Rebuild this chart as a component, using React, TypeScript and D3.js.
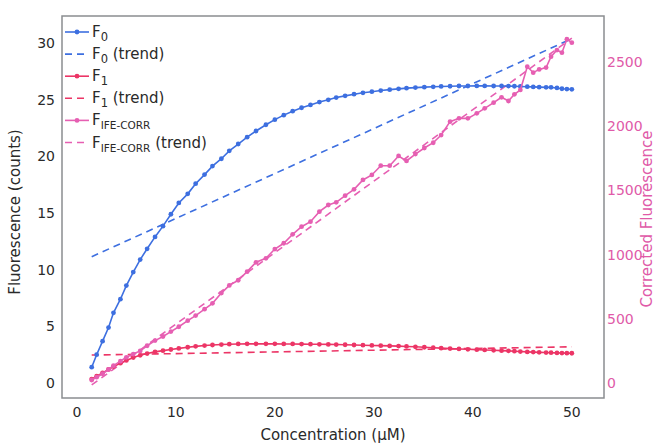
import React from "react";
import * as d3 from "d3";

const conc = [
  1.5, 2.0, 2.6, 3.2, 3.7, 4.4, 5.0, 5.7, 6.4, 7.1, 7.9, 8.7, 9.5, 10.3, 11.2, 12.0, 12.9, 13.7, 14.6, 15.4,
  16.3, 17.2, 18.1, 19.1, 20.0, 20.9, 21.8, 22.7, 23.6, 24.5, 25.4, 26.2, 27.1, 28.0, 28.9, 29.8, 30.7, 31.6,
  32.5, 33.3, 34.2, 35.1, 36.0, 36.8, 37.7, 38.6, 39.5, 40.4, 41.2, 42.1, 42.9, 43.6, 44.2, 44.8, 45.5, 46.1,
  46.7, 47.4, 47.9, 48.5, 49.0, 49.5, 50.0,
];

const f0 = [
  1.4, 2.5, 3.7, 4.9, 6.2, 7.4, 8.6, 9.8, 10.9, 11.85, 12.9, 13.85, 14.9, 15.9, 16.7, 17.6, 18.4, 19.15, 19.8, 20.5,
  21.1, 21.7, 22.25, 22.8, 23.25, 23.65, 24.0, 24.3, 24.55, 24.8, 25.0, 25.2, 25.35, 25.5, 25.62, 25.72, 25.82, 25.9,
  25.97, 26.03, 26.08, 26.12, 26.15, 26.18, 26.2, 26.22, 26.22, 26.23, 26.23, 26.22, 26.22, 26.21, 26.2, 26.18, 26.16, 26.14,
  26.12, 26.1, 26.1, 26.05, 25.98, 25.95, 25.93,
];

const f1 = [
  0.35, 0.6, 0.9, 1.2, 1.45, 1.75, 2.0, 2.25, 2.45, 2.6, 2.75, 2.86, 2.96, 3.06, 3.16, 3.24, 3.31, 3.36, 3.4, 3.43,
  3.45, 3.46, 3.46, 3.46, 3.46, 3.45, 3.45, 3.44, 3.43, 3.42, 3.41, 3.4, 3.38, 3.36, 3.34, 3.32, 3.3, 3.28,
  3.26, 3.23, 3.2, 3.16, 3.12, 3.08, 3.04, 3.01, 2.98, 2.95, 2.92, 2.89, 2.86, 2.84, 2.81, 2.78, 2.75, 2.73,
  2.71, 2.69, 2.68, 2.66, 2.65, 2.64, 2.63,
];

const fCorr = [
  23, 45, 72, 105, 135, 170, 200, 225, 250, 290, 330, 362, 400, 438, 485, 525, 575, 620, 700, 760,
  800, 867, 940, 971, 1043, 1088, 1158, 1217, 1256, 1334, 1386, 1407, 1459, 1508, 1581, 1620, 1692, 1692,
  1768, 1729, 1783, 1830, 1871, 1931, 2035, 2061, 2061, 2100, 2139, 2183, 2225, 2196, 2248, 2282, 2463, 2417,
  2442, 2456, 2541, 2593, 2572, 2677, 2650,
];

// trend lines, read at both ends
const trendConc = [1.5, 50];
const f0Trend = [11.15, 30.4];
const f1Trend = [2.47, 3.2];
const corrTrend = [-15, 2685];

const xTicks = [0, 10, 20, 30, 40, 50];
const yLeftTicks = [0, 5, 10, 15, 20, 25, 30];
const yRightTicks = [0, 500, 1000, 1500, 2000, 2500];

const BLUE = "#3d6fe0";
const RED = "#ec3566";
const PINK = "#e65fb2";
const AXIS_PINK = "#e05aa8";
const TEXT = "#2a2a2a";
const FONT = "DejaVu Sans, Verdana, sans-serif";

const W = 660;
const H = 443;
const plot = { left: 62, right: 604, top: 16, bottom: 398 };

const App = () => {
  const x = d3.scaleLinear().domain([-1.5, 53.25]).range([plot.left, plot.right]);
  const yL = d3.scaleLinear().domain([-1.32, 32.4]).range([plot.bottom, plot.top]);
  const yR = d3.scaleLinear().domain([-117, 2858]).range([plot.bottom, plot.top]);

  const pathOf = (vals: number[], ys: d3.ScaleLinear<number, number>, xs: number[]) =>
    d3.line<number>().x((_, i) => x(xs[i])).y((d) => ys(d))(vals) || "";

  const series = [
    { vals: f0, ys: yL, color: BLUE },
    { vals: f1, ys: yL, color: RED },
    { vals: fCorr, ys: yR, color: PINK },
  ];
  const trends = [
    { vals: f0Trend, ys: yL, color: BLUE },
    { vals: f1Trend, ys: yL, color: RED },
    { vals: corrTrend, ys: yR, color: PINK },
  ];

  const legendRows = [
    { color: BLUE, dashed: false, sub: "0", rest: "" },
    { color: BLUE, dashed: true, sub: "0", rest: " (trend)" },
    { color: RED, dashed: false, sub: "1", rest: "" },
    { color: RED, dashed: true, sub: "1", rest: " (trend)" },
    { color: PINK, dashed: false, sub: "IFE-CORR", rest: "" },
    { color: PINK, dashed: true, sub: "IFE-CORR", rest: " (trend)" },
  ];

  return (
    <svg
      width={W}
      height={H}
      style={{ position: "fixed", left: 0, top: 0, background: "#fff" }}
      fontFamily={FONT}
    >
      <rect x={0} y={0} width={W} height={H} fill="#fff" />

      {trends.map((t, k) => (
        <path
          key={"t" + k}
          d={pathOf(t.vals, t.ys, trendConc)}
          fill="none"
          stroke={t.color}
          strokeWidth={1.6}
          strokeDasharray="7,5"
        />
      ))}
      {series.map((s, k) => (
        <g key={"s" + k}>
          <path d={pathOf(s.vals, s.ys, conc)} fill="none" stroke={s.color} strokeWidth={1.6} />
          {s.vals.map((v, i) => (
            <circle key={i} cx={x(conc[i])} cy={s.ys(v)} r={2.4} fill={s.color} />
          ))}
        </g>
      ))}

      <rect
        x={plot.left}
        y={plot.top}
        width={plot.right - plot.left}
        height={plot.bottom - plot.top}
        fill="none"
        stroke="#8a8d90"
        strokeWidth={1.5}
      />

      {xTicks.map((t) => (
        <text key={t} x={x(t)} y={417} textAnchor="middle" fontSize={14} fill={TEXT}>
          {t}
        </text>
      ))}
      <text x={333} y={440} textAnchor="middle" fontSize={15} fill={TEXT}>
        Concentration (µM)
      </text>

      {yLeftTicks.map((t) => (
        <text key={t} x={55} y={yL(t) + 5} textAnchor="end" fontSize={14} fill={TEXT}>
          {t}
        </text>
      ))}
      <text
        transform={`translate(20,${(plot.top + plot.bottom) / 2 + 5}) rotate(-90)`}
        textAnchor="middle"
        fontSize={15}
        fill={TEXT}
      >
        Fluorescence (counts)
      </text>

      {yRightTicks.map((t) => (
        <text key={t} x={607} y={yR(t) + 5} textAnchor="start" fontSize={14} fill={AXIS_PINK}>
          {t}
        </text>
      ))}
      <text
        transform={`translate(652,${(plot.top + plot.bottom) / 2 + 12}) rotate(-90)`}
        textAnchor="middle"
        fontSize={15}
        fill={AXIS_PINK}
      >
        Corrected Fluorescence
      </text>

      {legendRows.map((r, i) => {
        const cy = 32 + i * 22.1;
        return (
          <g key={"l" + i}>
            <line
              x1={65}
              x2={89}
              y1={cy}
              y2={cy}
              stroke={r.color}
              strokeWidth={1.6}
              strokeDasharray={r.dashed ? "7,5" : undefined}
            />
            {!r.dashed && <circle cx={77} cy={cy} r={2.4} fill={r.color} />}
            <text x={92} y={cy + 5} fontSize={15} fill={TEXT}>
              F
              <tspan dy={4} fontSize={r.sub.length > 1 ? 10.5 : 11.5} fontWeight={r.sub.length > 1 ? 500 : 400}>
                {r.sub}
              </tspan>
              {r.rest && <tspan dy={-4}>{r.rest}</tspan>}
            </text>
          </g>
        );
      })}
    </svg>
  );
};

export default App;
